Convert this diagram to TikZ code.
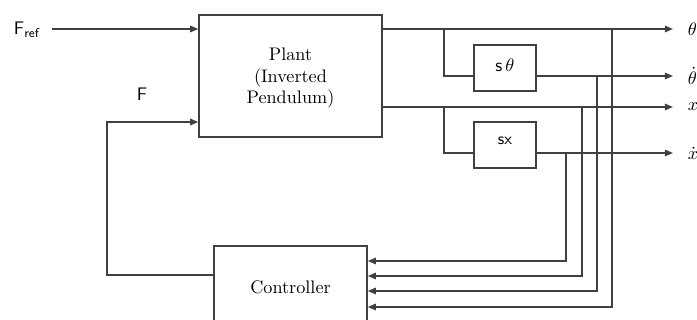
\documentclass[tikz,border=0pt]{standalone}
\usepackage{amsmath}
\usepackage{tikz}
\usetikzlibrary{arrows.meta}

\begin{document}
\begin{tikzpicture}[x=0.55pt, y=-0.55pt,
  wire/.style={draw=black!75, line width=0.8pt},
  arr/.style={wire, -{Triangle[length=4.5pt, width=3.6pt]}},
  blk/.style={draw=black!75, line width=0.8pt, rectangle, inner sep=0pt},
  outlbl/.style={anchor=west, inner sep=0pt, xshift=8pt}]
  \useasboundingbox (0,0) rectangle (697,320);
  % blocks
  \node[blk, minimum width=100.6pt, minimum height=67.1pt] (plant) at (290.5,76) {};
  \node[align=center] (plantlbl) at (290.5,78) {Plant\\(Inverted\\Pendulum)};
  \node[blk, minimum width=34.1pt, minimum height=25.3pt] (sth) at (505,68) {};
  \node[font=\sffamily] (sthlbl) at (505,65) {s\,$\theta$};
  \node[blk, minimum width=34.1pt, minimum height=25.3pt] (sx) at (505,145) {};
  \node[font=\sffamily\small] (sxlbl) at (505,141) {sx};
  \node[blk, minimum width=84.2pt, minimum height=46.8pt] (ctrl) at (290.5,288.5) {};
  \node (ctrllbl) at (290.5,287) {Controller};
  % inputs
  \node[font=\sffamily] (fref) at (27,30) {F\textsubscript{ref}};
  \node[font=\sffamily] (flbl) at (142,94) {F};
  \coordinate (fs) at (52,29);
  \draw[arr] (fs) -- (plant.west |- fs);
  % outputs
  \coordinate (e1) at (673,29);
  \coordinate (e2) at (673,76);
  \coordinate (e3) at (673,107);
  \coordinate (e4) at (673,153);
  \node[outlbl] (th) at (e1) {$\theta$};
  \node[outlbl] (thd) at (e2) {$\dot\theta$};
  \node[outlbl] (xo) at (e3) {$x$};
  \node[outlbl] (xd) at (e4) {$\dot x$};
  \draw[arr] (plant.east |- e1) -- (e1);
  \draw[arr] (plant.east |- e3) -- (e3);
  \draw[arr] (sth.east |- e2) -- (e2);
  \draw[arr] (sx.east |- e4) -- (e4);
  % derivative branches
  \coordinate (b1) at (444,29);
  \coordinate (b2) at (444,107);
  \draw[wire] (b1) |- (sth.west |- e2);
  \draw[wire] (b2) |- (sx.west |- e4);
  % feedback to controller
  \coordinate (t1) at (612,29);
  \coordinate (t2) at (597,76);
  \coordinate (t3) at (582,107);
  \coordinate (t4) at (566,153);
  \coordinate (k1) at (566,261);
  \coordinate (k2) at (582,276);
  \coordinate (k3) at (597,291);
  \coordinate (k4) at (612,307);
  \draw[arr] (t4) -- (k1) -- (ctrl.east |- k1);
  \draw[arr] (t3) -- (k2) -- (ctrl.east |- k2);
  \draw[arr] (t2) -- (k3) -- (ctrl.east |- k3);
  \draw[arr] (t1) -- (k4) -- (ctrl.east |- k4);
  % control force
  \coordinate (fb) at (107,275);
  \coordinate (fin) at (107,122);
  \draw[arr] (ctrl.west |- fb) -- (fb) -- (fin) -- (plant.west |- fin);
\end{tikzpicture}
\end{document}
